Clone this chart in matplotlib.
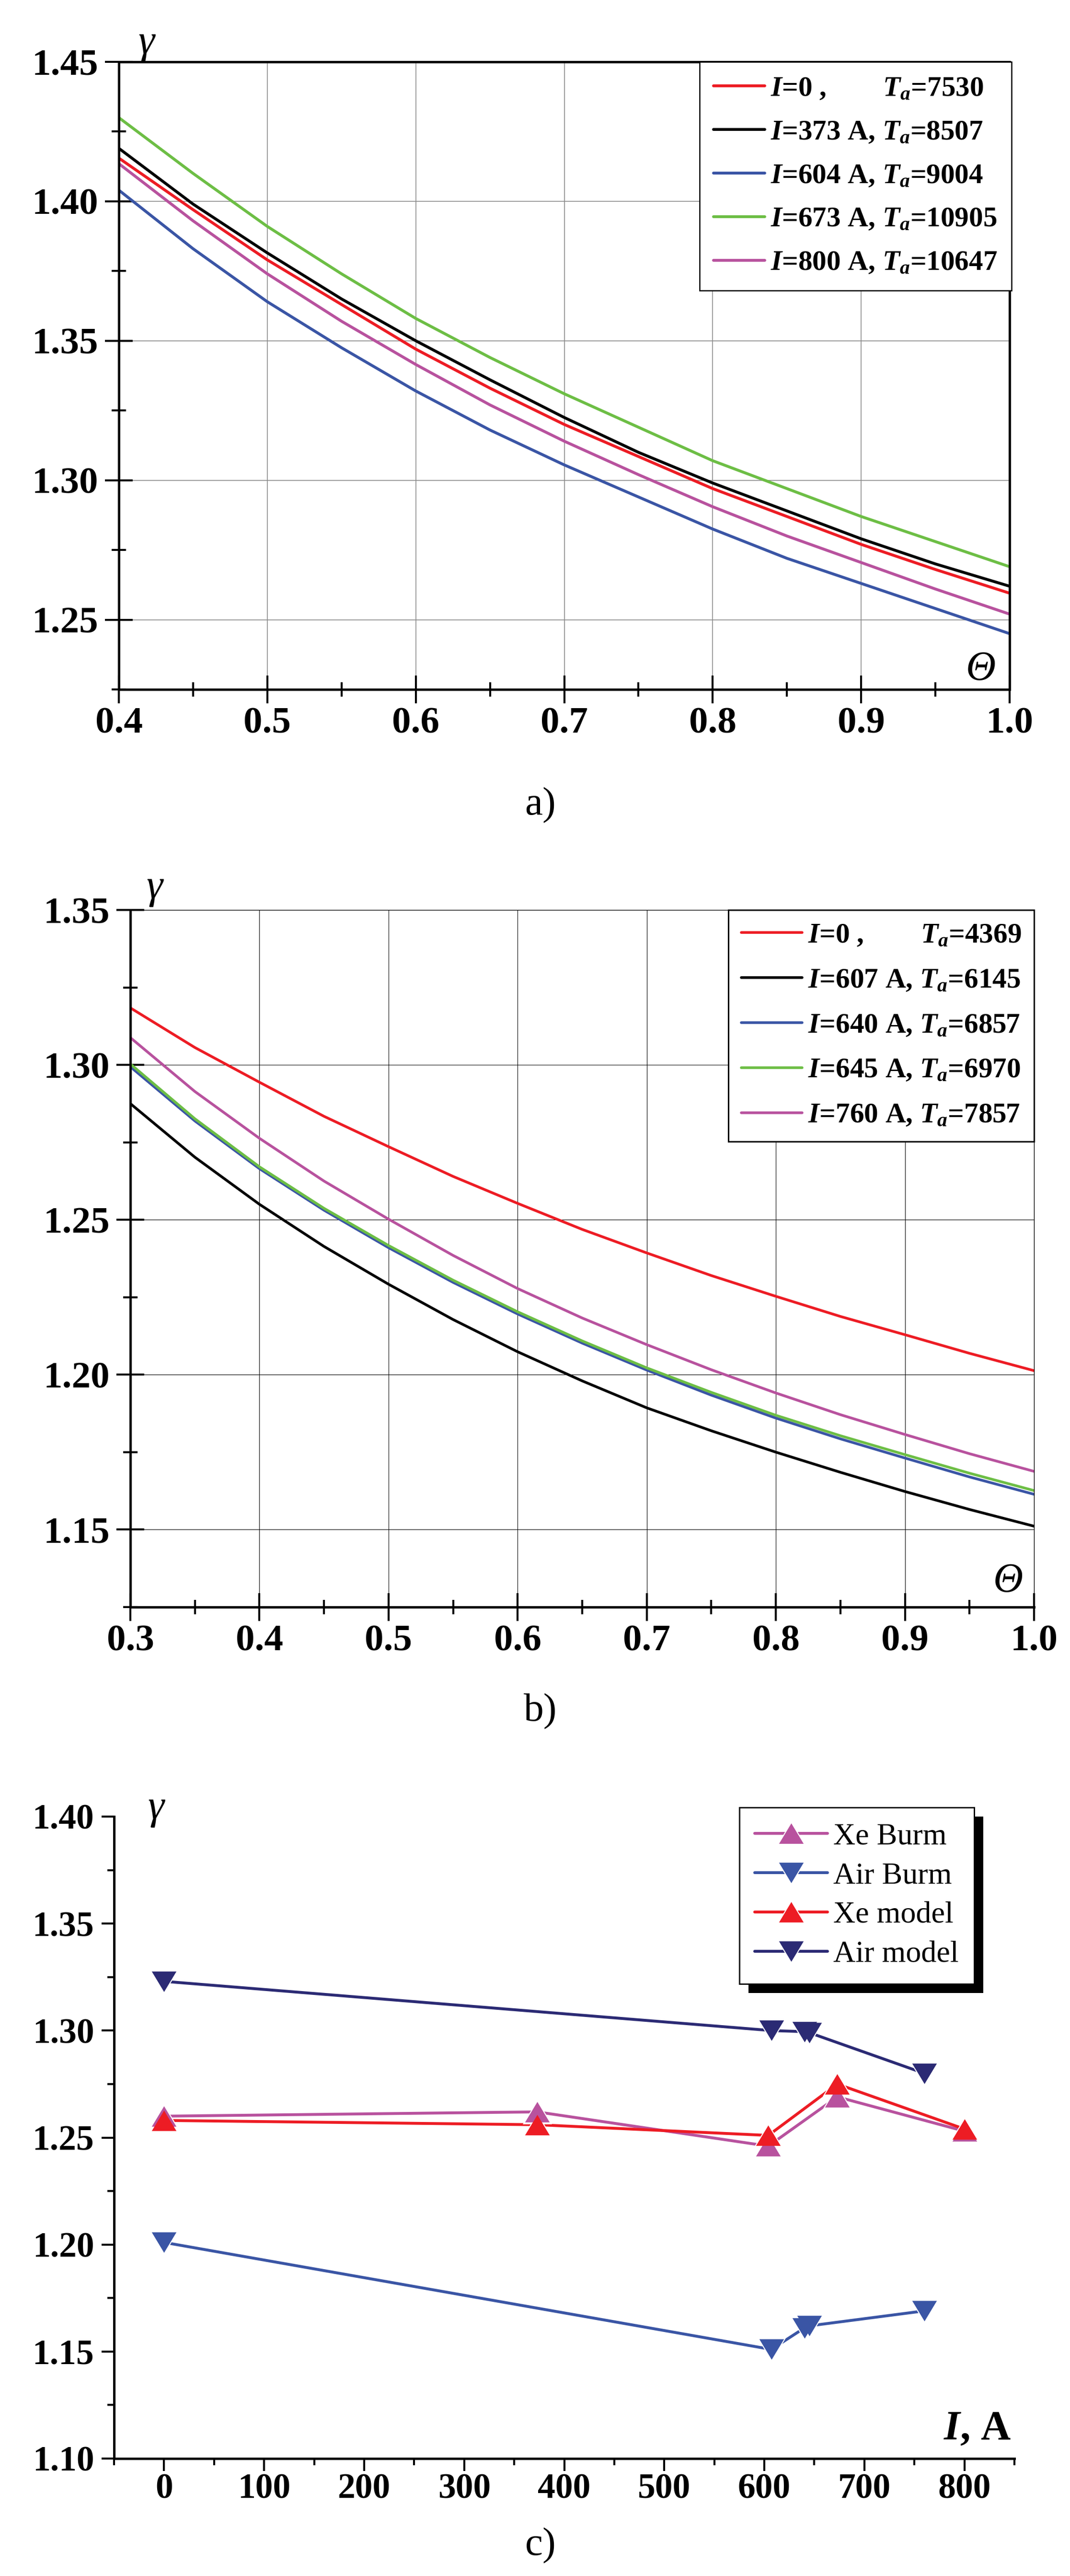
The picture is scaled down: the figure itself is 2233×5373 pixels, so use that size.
import matplotlib
matplotlib.use("Agg")
import matplotlib.pyplot as plt
from matplotlib.ticker import MultipleLocator, FormatStrFormatter
from matplotlib.legend_handler import HandlerTuple
from matplotlib.patches import Rectangle
from matplotlib.transforms import IdentityTransform

plt.rcParams.update(
    {
        "font.family": "Liberation Serif",
        "mathtext.fontset": "custom",
        "mathtext.it": "Liberation Serif:italic:bold",
        "mathtext.rm": "Liberation Serif:bold",
        "mathtext.bf": "Liberation Serif:bold",
    }
)

# ---- panel a: gamma(Theta), Xe ----
theta_a = [0.40, 0.45, 0.50, 0.55, 0.60, 0.65, 0.70, 0.75, 0.80, 0.85, 0.90, 0.95, 1.00]
gam_a_i0 = [1.4155, 1.397, 1.379, 1.363, 1.347, 1.333, 1.320, 1.3085, 1.297, 1.287, 1.277, 1.268, 1.2595]
gam_a_i373 = [1.419, 1.399, 1.3815, 1.365, 1.350, 1.336, 1.3225, 1.310, 1.299, 1.289, 1.279, 1.270, 1.262]
gam_a_i604 = [1.404, 1.383, 1.364, 1.3475, 1.332, 1.318, 1.3055, 1.294, 1.2825, 1.272, 1.263, 1.254, 1.245]
gam_a_i673 = [1.430, 1.410, 1.391, 1.374, 1.358, 1.344, 1.331, 1.319, 1.307, 1.297, 1.287, 1.278, 1.269]
gam_a_i800 = [1.4135, 1.393, 1.374, 1.357, 1.3415, 1.327, 1.314, 1.302, 1.2905, 1.280, 1.2705, 1.261, 1.252]
labels_a = [
    r"$I$=0 ,        $T_a$=7530",
    r"$I$=373 A, $T_a$=8507",
    r"$I$=604 A, $T_a$=9004",
    r"$I$=673 A, $T_a$=10905",
    r"$I$=800 A, $T_a$=10647",
]

# ---- panel b: gamma(Theta), air ----
theta_b = [0.30, 0.35, 0.40, 0.45, 0.50, 0.55, 0.60, 0.65, 0.70, 0.75, 0.80, 0.85, 0.90, 0.95, 1.00]
gam_b_i0 = [1.3184, 1.3056, 1.2944, 1.2834, 1.2736, 1.264, 1.2553, 1.2469, 1.2393, 1.232, 1.2253, 1.2188, 1.2129, 1.2069, 1.2013]
gam_b_i607 = [1.2875, 1.2702, 1.2550, 1.2414, 1.2292, 1.2178, 1.2074, 1.198, 1.1893, 1.1819, 1.1750, 1.1685, 1.1623, 1.1565, 1.1511]
gam_b_i640 = [1.2994, 1.2819, 1.2665, 1.2531, 1.2410, 1.2298, 1.2196, 1.2102, 1.2015, 1.1934, 1.1860, 1.1793, 1.1731, 1.1670, 1.1614]
gam_b_i645 = [1.3003, 1.2826, 1.2671, 1.2537, 1.2417, 1.2305, 1.2203, 1.2109, 1.2022, 1.1943, 1.1869, 1.1803, 1.1742, 1.1682, 1.1626]
gam_b_i760 = [1.3088, 1.2914, 1.2763, 1.2625, 1.2502, 1.2385, 1.2278, 1.2183, 1.2097, 1.2016, 1.1941, 1.1871, 1.1807, 1.1745, 1.1688]
labels_b = [
    r"$I$=0 ,        $T_a$=4369",
    r"$I$=607 A, $T_a$=6145",
    r"$I$=640 A, $T_a$=6857",
    r"$I$=645 A, $T_a$=6970",
    r"$I$=760 A, $T_a$=7857",
]

# ---- panel c: gamma(I) ----
xe_current = [0, 373, 604, 673, 800]
xe_burm = [1.260, 1.262, 1.246, 1.269, 1.253]
xe_model = [1.258, 1.256, 1.251, 1.275, 1.254]
air_current = [0, 607, 640, 645, 760]
air_burm = [1.201, 1.151, 1.161, 1.162, 1.169]
air_model = [1.323, 1.300, 1.2995, 1.299, 1.280]
labels_c = ["Xe Burm", "Air Burm", "Xe model", "Air model"]

RED = "#ED1C24"
BLACK = "#000000"
BLUE = "#3A55A5"
GREEN = "#6DBE45"
MAGENTA = "#B8529E"
NAVY = "#2B2A74"

# triangles a little wider than tall, like the Origin symbols
TRI_UP = [(-1.0, -0.83), (1.0, -0.83), (0.0, 0.83), (-1.0, -0.83)]
TRI_DOWN = [(-1.0, 0.83), (1.0, 0.83), (0.0, -0.83), (-1.0, 0.83)]

W, H = 2233, 5373
DPI = 100
fig = plt.figure(figsize=(W / DPI, H / DPI), dpi=DPI)


def px_axes(left, top, right, bottom):
    return fig.add_axes([left / W, 1 - bottom / H, (right - left) / W, (bottom - top) / H])


def style_theta_axes(ax, grid_color, grid_lw, thin_box):
    ax.xaxis.set_major_locator(MultipleLocator(0.1))
    ax.xaxis.set_minor_locator(MultipleLocator(0.05))
    ax.yaxis.set_major_locator(MultipleLocator(0.05))
    ax.yaxis.set_minor_locator(MultipleLocator(0.025))
    ax.xaxis.set_major_formatter(FormatStrFormatter("%.1f"))
    ax.yaxis.set_major_formatter(FormatStrFormatter("%.2f"))
    ax.tick_params(which="major", direction="inout", length=42, width=3, labelsize=57)
    ax.tick_params(which="minor", direction="inout", length=22, width=3)
    ax.tick_params(axis="y", which="major", pad=10)
    ax.tick_params(axis="x", which="major", pad=5)
    for lab in ax.get_xticklabels() + ax.get_yticklabels():
        lab.set_fontweight("bold")
    ax.grid(True, which="major", color=grid_color, lw=grid_lw)
    ax.set_axisbelow(True)
    for side in ("left", "bottom"):
        ax.spines[side].set_linewidth(3.6)
    for side in ("top", "right"):
        ax.spines[side].set_linewidth(1.0 if thin_box else 3.6)


def fitted_legend(build, target_w, target_h, nrows, fs, sp):
    # scale the font until the legend box has the reference width,
    # then open the row spacing until it has the reference height
    for _ in range(3):
        leg = build(fs, sp)
        fig.canvas.draw()
        bb = leg.get_window_extent()
        fs = fs * target_w / bb.width
        leg.remove()
    for _ in range(2):
        leg = build(fs, sp)
        fig.canvas.draw()
        bb = leg.get_window_extent()
        sp = sp + (target_h - bb.height) / ((nrows - 1) * fs * DPI / 72)
        leg.remove()
    return build(fs, sp)


# ---------------- panel a ----------------
ax_a = px_axes(248, 129, 2107, 1438)
series_a = [
    (gam_a_i0, RED),
    (gam_a_i373, BLACK),
    (gam_a_i604, BLUE),
    (gam_a_i673, GREEN),
    (gam_a_i800, MAGENTA),
]
for (vals, col), lab in zip(series_a, labels_a):
    ax_a.plot(theta_a, vals, color=col, lw=4.3, label=lab, solid_capstyle="round")
ax_a.set_xlim(0.4, 1.0)
ax_a.set_ylim(1.225, 1.45)
style_theta_axes(ax_a, "#8a8a8a", 1.2, thin_box=False)


def build_a(fs, sp):
    leg = ax_a.legend(
        loc="upper right", bbox_to_anchor=(1.002, 1.0), borderaxespad=0,
        prop={"family": "Liberation Serif", "weight": "bold", "size": fs},
        handlelength=1.8, handletextpad=0.2, labelspacing=sp, borderpad=0.5,
        fancybox=False, edgecolor="black", framealpha=1,
    )
    leg.get_frame().set_linewidth(1.8)
    return leg


# ---------------- panel b ----------------
ax_b = px_axes(272, 1898, 2158, 3352)
series_b = [
    (gam_b_i0, RED, labels_b[0]),
    (gam_b_i607, BLACK, labels_b[1]),
    (gam_b_i640, BLUE, labels_b[2]),
    (gam_b_i645, GREEN, labels_b[3]),
    (gam_b_i760, MAGENTA, labels_b[4]),
]
for vals, col, lab in series_b:
    ax_b.plot(theta_b, vals, color=col, lw=4.0, label=lab, solid_capstyle="round")
ax_b.set_xlim(0.3, 1.0)
ax_b.set_ylim(1.125, 1.35)
style_theta_axes(ax_b, "black", 0.8, thin_box=True)


def build_b(fs, sp):
    leg = ax_b.legend(
        loc="upper right", bbox_to_anchor=(1.0, 1.0), borderaxespad=0,
        prop={"family": "Liberation Serif", "weight": "bold", "size": fs},
        handlelength=2.15, handletextpad=0.2, labelspacing=sp, borderpad=0.45,
        fancybox=False, edgecolor="black", framealpha=1,
    )
    leg.get_frame().set_linewidth(2.2)
    return leg


# ---------------- panel c ----------------
ax_c = px_axes(238, 3789, 2117, 5128)
series_c = [
    (xe_current, xe_burm, MAGENTA, TRI_UP),
    (air_current, air_burm, BLUE, TRI_DOWN),
    (xe_current, xe_model, RED, TRI_UP),
    (air_current, air_model, NAVY, TRI_DOWN),
]
handles_c = []
for xs, ys, col, mk in series_c:
    line, = ax_c.plot(xs, ys, color=col, lw=4.3, zorder=2, solid_capstyle="round")
    mask, = ax_c.plot(xs, ys, ls="none", marker=mk, ms=44, color="white", mew=0, zorder=3)
    mark, = ax_c.plot(xs, ys, ls="none", marker=mk, ms=37, color=col, mew=0, zorder=4)
    handles_c.append((line, mask, mark))

ax_c.set_xlim(-50, 850)
ax_c.set_ylim(1.10, 1.40)
ax_c.xaxis.set_major_locator(MultipleLocator(100))
ax_c.xaxis.set_minor_locator(MultipleLocator(50))
ax_c.yaxis.set_major_locator(MultipleLocator(0.05))
ax_c.yaxis.set_minor_locator(MultipleLocator(0.025))
ax_c.yaxis.set_major_formatter(FormatStrFormatter("%.2f"))
ax_c.tick_params(which="major", direction="out", length=19, width=3, labelsize=53)
ax_c.tick_params(which="minor", direction="out", length=10, width=3)
ax_c.tick_params(axis="y", which="major", pad=11)
ax_c.tick_params(axis="x", which="major", pad=3)
for lab in ax_c.get_xticklabels() + ax_c.get_yticklabels():
    lab.set_fontweight("bold")
for side in ("top", "right"):
    ax_c.spines[side].set_visible(False)
for side in ("left", "bottom"):
    ax_c.spines[side].set_linewidth(3.6)


def build_c(fs, sp):
    leg = ax_c.legend(
        handles_c, labels_c,
        handler_map={tuple: HandlerTuple(ndivide=1)},
        loc="upper right", bbox_to_anchor=(0.9553, 1.0142), borderaxespad=0,
        prop={"family": "Liberation Serif", "size": fs},
        handlelength=2.37, handletextpad=0.2, labelspacing=sp, borderpad=0.5,
        fancybox=False, edgecolor="black", framealpha=1, numpoints=1,
    )
    leg.get_frame().set_linewidth(2.0)
    leg.set_zorder(10)
    return leg


# ---------------- axis labels and captions ----------------
greek = {"family": "Liberation Serif", "style": "italic", "size": 62}
fig.text(305 / W, 1 - 90 / H, "γ", ha="center", va="center", **greek)
fig.text(322 / W, 1 - 1852 / H, "γ", ha="center", va="center", **greek)
fig.text(325 / W, 1 - 3772 / H, "γ", ha="center", va="center", **greek)
fig.text(2047 / W, 1 - 1397 / H, "Θ", ha="center", va="center", **greek)
fig.text(2104 / W, 1 - 3299 / H, "Θ", ha="center", va="center", **greek)
fig.text(2110 / W, 1 - 5088 / H, r"$I$, A", ha="right", va="baseline",
         family="Liberation Serif", weight="bold", size=62)

cap = {"family": "Liberation Serif", "size": 60, "ha": "center", "va": "center"}
fig.text(1128 / W, 1 - 1680 / H, "a)", **cap)
fig.text(1128 / W, 1 - 3570 / H, "b)", **cap)
fig.text(1128 / W, 1 - 5310 / H, "c)", **cap)

leg_a = fitted_legend(build_a, 651, 477, 5, 43, 0.25)
leg_b = fitted_legend(build_b, 638, 483, 5, 43, 0.4)
leg_c = fitted_legend(build_c, 490, 368, 4, 47, 0.1)

# black drop shadow behind legend c
fig.canvas.draw()
bb = leg_c.get_window_extent()
off = 19
shadow = Rectangle((bb.x0 + off, bb.y0 - off), bb.width, bb.height,
                   facecolor="black", edgecolor="none", transform=IdentityTransform(),
                   zorder=9, clip_on=False)
ax_c.add_artist(shadow)

fig.savefig("out.png", dpi=DPI)
